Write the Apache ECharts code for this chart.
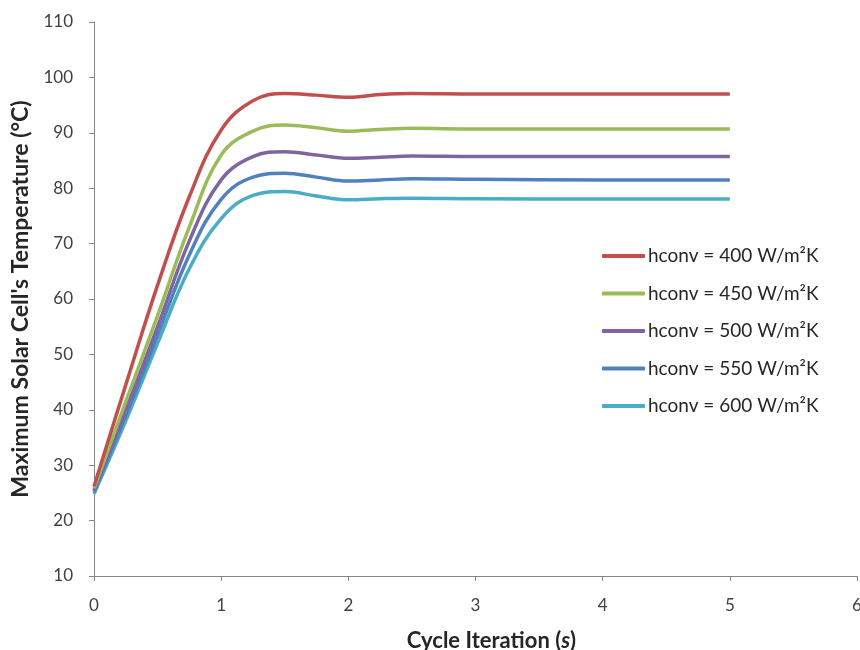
<!DOCTYPE html>
<html>
<head>
<meta charset="utf-8">
<script src="https://cdn.jsdelivr.net/npm/echarts@6/dist/echarts.min.js"></script>
<style>
html,body{margin:0;padding:0;background:#fff;}
#c{width:860px;height:650px;}
</style>
</head>
<body>
<div id="c"></div>
<script>
var times = [0, 0.25, 0.5, 0.75, 1.0, 1.25, 1.5, 1.75, 2.0, 2.25, 2.5, 3, 4, 5];
var h400 = [26.2, 44.5, 62.5, 78.5, 90.5, 95.8, 97.1, 96.8, 96.4, 96.9, 97.1, 97.0, 97.0, 97.0];
var h450 = [25.8, 41.5, 57.0, 73.0, 86.0, 90.3, 91.4, 90.9, 90.3, 90.6, 90.8, 90.7, 90.7, 90.7];
var h500 = [25.5, 40.0, 55.0, 70.5, 81.5, 85.7, 86.6, 86.0, 85.4, 85.6, 85.8, 85.7, 85.7, 85.7];
var h550 = [25.2, 39.0, 53.5, 68.0, 78.0, 82.0, 82.7, 82.0, 81.3, 81.5, 81.7, 81.6, 81.5, 81.5];
var h600 = [24.8, 38.0, 52.0, 65.5, 74.5, 78.7, 79.4, 78.6, 77.9, 78.1, 78.2, 78.1, 78.05, 78.05];
var seriesNames = ['hconv = 400 W/m²K', 'hconv = 450 W/m²K', 'hconv = 500 W/m²K', 'hconv = 550 W/m²K', 'hconv = 600 W/m²K'];
var seriesColors = ['#C0504D', '#9BBB59', '#8064A2', '#4F81BD', '#4BACC6'];
var seriesData = [h400, h450, h500, h550, h600];

var FONT = 'Lato';
function pairs(vals){ return times.map(function(t,i){ return [t, vals[i]]; }); }

var chart = echarts.init(document.getElementById('c'), null, {renderer:'canvas'});
chart.setOption({
  backgroundColor: '#ffffff',
  animation: false,
  grid: {left: 94, right: 3, top: 22, bottom: 74, containLabel: false, outerBoundsMode: 'none'},
  legend: {
    orient: 'vertical',
    left: 602, top: 246,
    padding: 0,
    itemWidth: 43, itemHeight: 4,
    itemGap: 17.5,
    icon: 'roundRect',
    textStyle: {fontFamily: FONT, fontSize: 19, color: '#262626', lineHeight: 20, padding: [0,0,0,-2]},
    data: seriesNames
  },
  xAxis: {
    type: 'value', min: 0, max: 6, interval: 1,
    name: '{b|Cycle Iteration (}{i|s}{b|)}',
    nameLocation: 'middle', nameGap: 54,
    nameTextStyle: {padding: [0,0,0,32], rich: {
      b: {fontFamily: FONT, fontSize: 22, fontWeight: 'bold', color: '#262626'},
      i: {fontFamily: FONT, fontSize: 22, fontWeight: 'bold', fontStyle: 'italic', color: '#262626'}
    }},
    axisLine: {show: true, lineStyle: {color: '#868686', width: 1}},
    axisTick: {show: true, inside: false, length: 5, lineStyle: {color: '#868686'}},
    axisLabel: {margin: 21, fontFamily: FONT, fontSize: 17, color: '#404040'},
    splitLine: {show: false}
  },
  yAxis: {
    type: 'value', min: 10, max: 110, interval: 10,
    name: "Maximum Solar Cell's Temperature (°C)",
    nameLocation: 'middle', nameGap: 60,
    nameTextStyle: {fontFamily: FONT, fontSize: 23, fontWeight: 'bold', color: '#262626'},
    axisLine: {show: true, lineStyle: {color: '#868686', width: 1}},
    axisTick: {show: true, inside: false, length: 5, lineStyle: {color: '#868686'}},
    axisLabel: {margin: 21, fontFamily: FONT, fontSize: 17, color: '#404040'},
    splitLine: {show: false}
  },
  series: seriesData.map(function(d, i){
    return {
      name: seriesNames[i], type: 'line', data: pairs(d),
      smooth: 0.4, showSymbol: false, symbol: 'none',
      lineStyle: {color: seriesColors[i], width: 3.5},
      itemStyle: {color: seriesColors[i]},
      z: 10 - i
    };
  })
});
</script>
</body>
</html>
